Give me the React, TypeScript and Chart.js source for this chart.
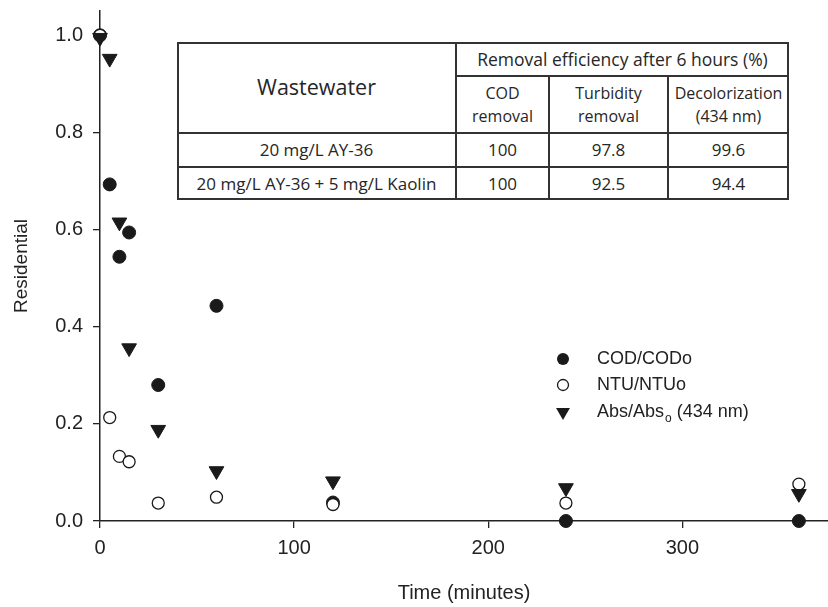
import React, { useEffect, useRef } from 'react';
import { Chart, registerables } from 'chart.js';

Chart.register(...registerables);

// ---- Data ----
const timeMin = [0, 5, 10, 15, 30, 60, 120, 240, 360];
const codRatio = [1.0, 0.693, 0.544, 0.594, 0.28, 0.443, 0.038, 0.0, 0.0];
const ntuRatio = [1.0, 0.213, 0.133, 0.122, 0.037, 0.049, 0.034, 0.037, 0.076];
const absRatio = [0.995, 0.952, 0.615, 0.356, 0.188, 0.103, 0.082, 0.068, 0.056];

const xTicks = [0, 100, 200, 300];
const yTicks = [0, 0.2, 0.4, 0.6, 0.8, 1.0];

const legendLabels = ['COD/CODo', 'NTU/NTUo', 'Abs/Abs'];

const tableWastewater = ['20 mg/L AY-36', '20 mg/L AY-36 + 5 mg/L Kaolin'];
const tableCod = ['100', '100'];
const tableTurbidity = ['97.8', '92.5'];
const tableDecolor = ['99.6', '94.4'];

const AXIS_FONT = '"Liberation Sans", Arial, sans-serif';
const TABLE_FONT = '"Open Sans", Lato, sans-serif';
const INK = '#1a1a1a';

const legendPlugin = {
  id: 'customLegend',
  afterDraw(chart: any) {
    const ctx = chart.ctx as CanvasRenderingContext2D;
    ctx.save();
    const mx = 563;
    const tx = 597;
    const rows = [359, 385, 412];
    ctx.fillStyle = INK;
    ctx.strokeStyle = INK;
    ctx.beginPath();
    ctx.arc(mx, rows[0], 6, 0, Math.PI * 2);
    ctx.fill();
    ctx.lineWidth = 1.3;
    ctx.beginPath();
    ctx.arc(mx, rows[1], 5.5, 0, Math.PI * 2);
    ctx.fillStyle = '#fff';
    ctx.fill();
    ctx.stroke();
    ctx.fillStyle = INK;
    const r = 8;
    ctx.beginPath();
    ctx.moveTo(mx, rows[2] + r);
    ctx.lineTo(mx - r * 0.866, rows[2] - r / 2);
    ctx.lineTo(mx + r * 0.866, rows[2] - r / 2);
    ctx.closePath();
    ctx.fill();

    ctx.fillStyle = '#222';
    ctx.textBaseline = 'middle';
    ctx.textAlign = 'left';
    ctx.font = `18px ${AXIS_FONT}`;
    ctx.fillText(legendLabels[0], tx, rows[0]);
    ctx.fillText(legendLabels[1], tx, rows[1]);
    ctx.fillText(legendLabels[2], tx, rows[2]);
    const w = ctx.measureText(legendLabels[2]).width;
    ctx.font = `12px ${AXIS_FONT}`;
    ctx.fillText('o', tx + w + 1, rows[2] + 7);
    const w2 = ctx.measureText('o').width;
    ctx.font = `18px ${AXIS_FONT}`;
    ctx.fillText(' (434 nm)', tx + w + 1 + w2, rows[2]);
    ctx.restore();
  },
};

export default function App() {
  const ref = useRef<HTMLCanvasElement>(null);

  useEffect(() => {
    const chart = new Chart(ref.current as HTMLCanvasElement, {
      type: 'scatter',
      data: {
        datasets: [
          {
            label: legendLabels[0],
            data: timeMin.map((t, i) => ({ x: t, y: codRatio[i] })),
            pointStyle: 'circle',
            pointRadius: 6.5,
            backgroundColor: INK,
            borderColor: INK,
            borderWidth: 1,
            clip: false as any,
            order: 2,
          },
          {
            label: legendLabels[1],
            data: timeMin.map((t, i) => ({ x: t, y: ntuRatio[i] })),
            pointStyle: 'circle',
            pointRadius: 6,
            backgroundColor: '#fff',
            borderColor: INK,
            borderWidth: 1.3,
            clip: false as any,
            order: 1,
          },
          {
            label: legendLabels[2],
            data: timeMin.map((t, i) => ({ x: t, y: absRatio[i] })),
            pointStyle: 'triangle',
            pointRadius: 8.5,
            rotation: 180,
            backgroundColor: INK,
            borderColor: INK,
            borderWidth: 1,
            clip: false as any,
            order: 0,
          },
        ],
      },
      options: {
        responsive: false,
        animation: false,
        events: [],
        layout: { autoPadding: false, padding: { top: 11, right: 0, left: 0, bottom: 0 } },
        plugins: {
          legend: { display: false },
          tooltip: { enabled: false },
        },
        scales: {
          x: {
            type: 'linear',
            min: 0,
            max: 375,
            afterBuildTicks: (scale: any) => {
              scale.ticks = xTicks.map((v) => ({ value: v }));
            },
            afterFit: (scale: any) => {
              scale.height = 86;
              scale.paddingLeft = 0;
              scale.paddingRight = 0;
            },
            ticks: {
              color: '#222',
              font: { family: AXIS_FONT, size: 20 },
              padding: 8,
              maxRotation: 0,
              callback: (v: any) => String(v),
            },
            grid: {
              display: true,
              drawOnChartArea: false,
              drawTicks: true,
              tickLength: 7,
              color: '#222',
              lineWidth: 1.3,
            },
            border: { display: true, color: '#222', width: 1.5 },
            title: {
              display: true,
              text: 'Time (minutes)',
              color: '#222',
              font: { family: AXIS_FONT, size: 20 },
              padding: { top: 0, bottom: 2 },
            },
          },
          y: {
            type: 'linear',
            min: 0,
            max: 1.05,
            afterBuildTicks: (scale: any) => {
              scale.ticks = yTicks.map((v) => ({ value: v }));
            },
            afterFit: (scale: any) => {
              scale.width = 100;
              scale.paddingTop = 0;
              scale.paddingBottom = 0;
            },
            ticks: {
              color: '#222',
              font: { family: AXIS_FONT, size: 20 },
              padding: 10,
              callback: (v: any) => Number(v).toFixed(1),
            },
            grid: {
              display: true,
              drawOnChartArea: false,
              drawTicks: true,
              tickLength: 7,
              color: '#222',
              lineWidth: 1.3,
            },
            border: { display: true, color: '#222', width: 1.5 },
            title: {
              display: true,
              text: 'Residential',
              color: '#222',
              font: { family: AXIS_FONT, size: 19 },
              padding: { top: 10, bottom: 0 },
            },
          },
        },
      },
      plugins: [legendPlugin],
    } as any);
    return () => chart.destroy();
  }, []);

  const tblLeft = 177;
  const tblTop = 42;
  const tblW = 612;
  const tblH = 158;
  const line = '#333';
  const lw = 2;

  const cell = (
    key: string,
    x: number,
    y: number,
    w: number,
    h: number,
    content: React.ReactNode,
    size = 17
  ) => (
    <div
      key={key}
      style={{
        position: 'absolute',
        left: x,
        top: y,
        width: w,
        height: h,
        display: 'flex',
        alignItems: 'center',
        justifyContent: 'center',
        textAlign: 'center',
        fontFamily: TABLE_FONT,
        fontSize: size,
        lineHeight: 1.4,
        color: '#262626',
        whiteSpace: 'nowrap',
      }}
    >
      {content}
    </div>
  );

  const hLine = (key: string, x: number, y: number, w: number) => (
    <div key={key} style={{ position: 'absolute', left: x, top: y - lw / 2, width: w, height: lw, background: line }} />
  );
  const vLine = (key: string, x: number, y: number, h: number) => (
    <div key={key} style={{ position: 'absolute', left: x - lw / 2, top: y, width: lw, height: h, background: line }} />
  );

  const c1 = 279;
  const c2 = 372;
  const c3 = 491;
  const r1 = 34;
  const r2 = 91;
  const r3 = 125;

  return (
    <div style={{ position: 'fixed', left: 0, top: 0, width: 828, height: 607, background: '#fff' }}>
      <canvas
        ref={ref}
        width={828}
        height={607}
        style={{ position: 'absolute', left: 0, top: 0, width: 828, height: 607 }}
      />
      <div
        style={{
          position: 'absolute',
          left: tblLeft,
          top: tblTop,
          width: tblW,
          height: tblH,
          background: '#fff',
          border: `${lw}px solid ${line}`,
          boxSizing: 'border-box',
        }}
      >
        <div style={{ position: 'absolute', left: -lw, top: -lw, width: tblW, height: tblH }}>
          {vLine('v1', c1, 0, tblH)}
          {vLine('v2', c2, r1, tblH - r1)}
          {vLine('v3', c3, r1, tblH - r1)}
          {hLine('h1', c1, r1, tblW - c1)}
          {hLine('h2', 0, r2, tblW)}
          {hLine('h3', 0, r3, tblW)}
          {cell('ww', 0, 0, c1, r2, 'Wastewater', 21.5)}
          {cell('re', c1, 0, tblW - c1, r1, 'Removal efficiency after 6 hours (%)', 17.5)}
          {cell('cod', c1, r1, c2 - c1, r2 - r1, <span>COD<br />removal</span>, 16)}
          {cell('tur', c2, r1, c3 - c2, r2 - r1, <span>Turbidity<br />removal</span>, 16)}
          {cell('dec', c3, r1, tblW - c3, r2 - r1, <span>Decolorization<br />(434 nm)</span>, 16)}
          {tableWastewater.map((w, i) => {
            const y0 = i === 0 ? r2 : r3;
            const h = i === 0 ? r3 - r2 : tblH - r3;
            return [
              cell('w' + i, 0, y0, c1, h, w),
              cell('c' + i, c1, y0, c2 - c1, h, tableCod[i]),
              cell('t' + i, c2, y0, c3 - c2, h, tableTurbidity[i]),
              cell('d' + i, c3, y0, tblW - c3, h, tableDecolor[i]),
            ];
          })}
        </div>
      </div>
    </div>
  );
}
